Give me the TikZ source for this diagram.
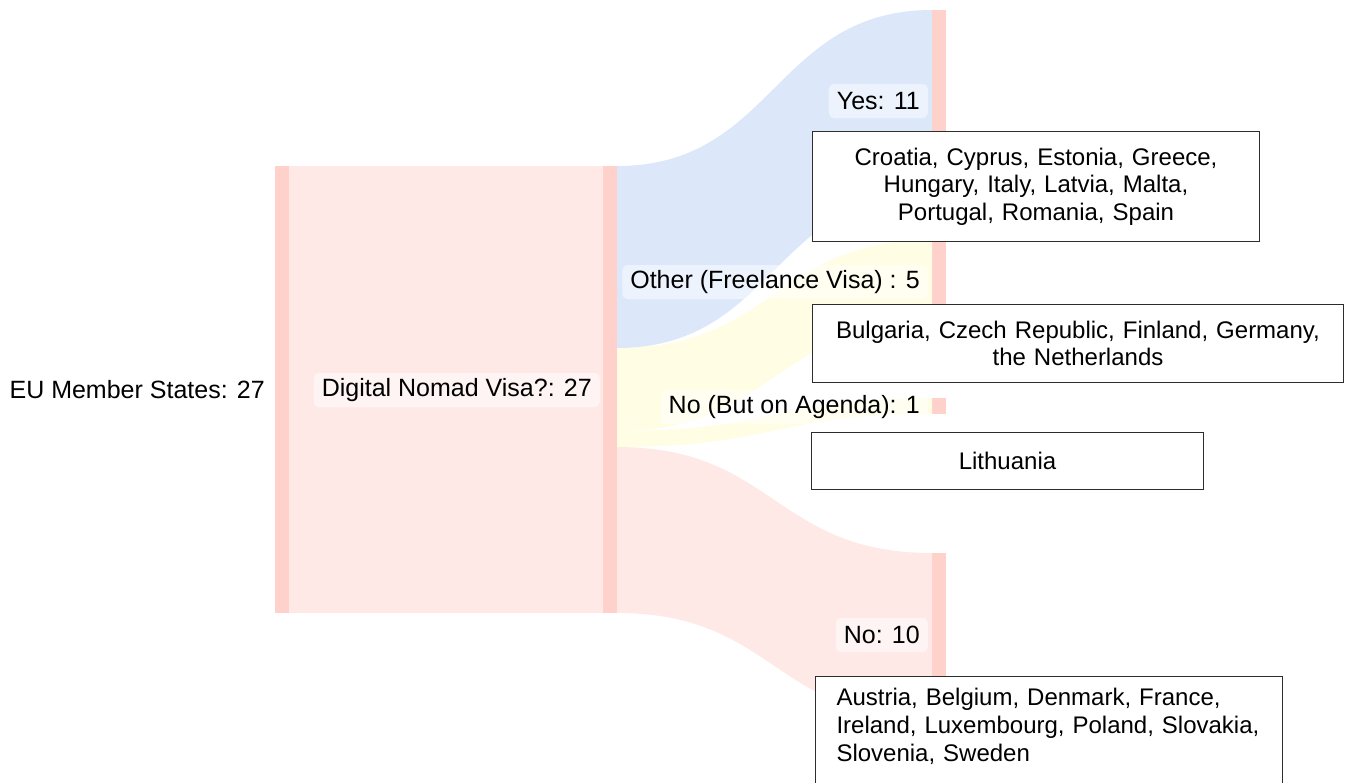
\documentclass[tikz,border=0pt]{standalone}
\usepackage{fontspec}
\setmainfont{Liberation Sans}
\usepackage{tikz}
\definecolor{barpink}{RGB}{255,209,203}
\definecolor{linkpink}{RGB}{254,233,231}
\definecolor{linkblue}{RGB}{220,232,250}
\definecolor{linkyellow}{RGB}{255,253,228}
\definecolor{boxline}{RGB}{45,45,45}
\tikzstyle{nodebar}=[rectangle,fill=barpink,inner sep=0,outer sep=0,minimum width=14pt,anchor=north west]
\tikzstyle{lbl}=[rectangle,rounded corners=5pt,fill=white,fill opacity=0.5,text opacity=1,inner xsep=8pt,inner ysep=0,minimum height=34pt,anchor=east,font=\fontsize{25}{30}\selectfont]
\tikzstyle{countrybox}=[rectangle,draw=boxline,line width=1pt,fill=white,inner sep=0,align=center,anchor=north west,font=\fontsize{24}{27.6}\selectfont]

\begin{document}
\begin{tikzpicture}[x=1pt,y=-1pt]
        \useasboundingbox (0,0) rectangle (1347,782);
        \clip (0,0) rectangle (1347,782);
        % nodes of the sankey
        \node[nodebar,minimum height=447pt] (eu) at (275,166) {};
        \node[nodebar,minimum height=447pt] (dnv) at (603,166) {};
        \node[nodebar,minimum height=182pt] (yes) at (932,10) {};
        \node[nodebar,minimum height=83pt] (other) at (932,240) {};
        \node[nodebar,minimum height=16pt] (agenda) at (932,398) {};
        \node[nodebar,minimum height=166pt] (no) at (932,553) {};
        \coordinate (d1) at (617,348);
        \coordinate (d2) at (617,431);
        \coordinate (d3) at (617,447);
        % links
        \fill[linkpink] (eu.north east) rectangle (dnv.south west);
        \fill[linkyellow] (d1) .. controls +(157.5,0) and +(-157.5,0) .. (other.north west)
            -- (other.south west) .. controls +(-157.5,0) and +(157.5,0) .. (d2) -- cycle;
        \fill[linkyellow] (d2) .. controls +(157.5,0) and +(-157.5,0) .. (agenda.north west)
            -- (agenda.south west) .. controls +(-157.5,0) and +(157.5,0) .. (d3) -- cycle;
        \fill[linkblue] (dnv.north east) .. controls +(157.5,0) and +(-157.5,0) .. (yes.north west)
            -- (yes.south west) .. controls +(-157.5,0) and +(157.5,0) .. (d1) -- cycle;
        \fill[linkpink] (d3) .. controls +(157.5,0) and +(-157.5,0) .. (no.north west)
            -- (no.south west) .. controls +(-157.5,0) and +(157.5,0) .. (dnv.south east) -- cycle;
        % labels
        \node[lbl] (eulbl) at (273,390) {EU Member States: 27};
        \node[lbl] (dnvlbl) at (600,390) {Digital Nomad Visa?: 27};
        \node[lbl] (yeslbl) at (928,101) {Yes: 11};
        \node[lbl] (otherlbl) at (928,282) {Other (Freelance Visa) : 5};
        \node[lbl] (agendalbl) at (928,407) {No (But on Agenda): 1};
        \node[lbl] (nolbl) at (928,635) {No: 10};
        % country lists
        \node[countrybox,minimum width=447pt,minimum height=110pt,text width=447pt] (yeslist) at (812,131)
            {Croatia, Cyprus, Estonia, Greece,\\ Hungary, Italy, Latvia, Malta,\\ Portugal, Romania, Spain};
        \node[countrybox,minimum width=531pt,minimum height=78pt,text width=531pt] (otherlist) at (812,304)
            {Bulgaria, Czech Republic, Finland, Germany,\\ the Netherlands};
        \node[countrybox,minimum width=392pt,minimum height=57pt,text width=392pt] (agendalist) at (811,432)
            {Lithuania};
        \node[countrybox,align=left,inner xsep=21pt,inner ysep=12pt,text width=425pt,text depth=120pt] (nolist) at (815,676)
            {Austria, Belgium, Denmark, France,\\ Ireland, Luxembourg, Poland, Slovakia,\\ Slovenia, Sweden};
\end{tikzpicture}
\end{document}
